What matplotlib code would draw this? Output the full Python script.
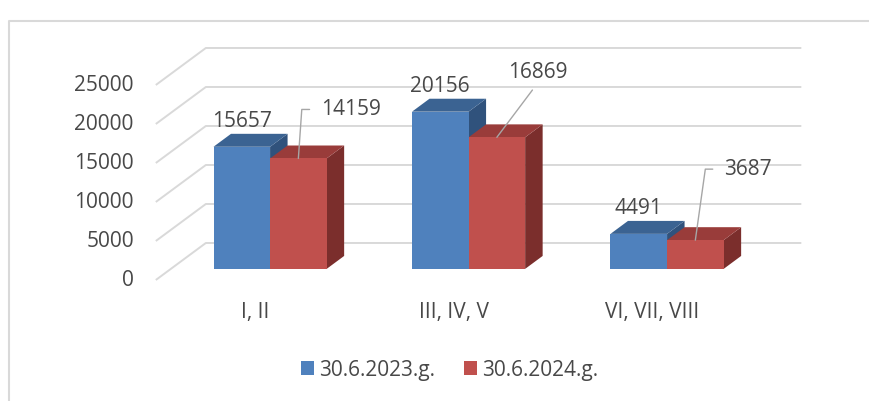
import matplotlib.pyplot as plt
from matplotlib.patches import Polygon, Patch
from matplotlib.lines import Line2D

categories = ["I, II", "III, IV, V", "VI, VII, VIII"]
series_names = ["30.6.2023.g.", "30.6.2024.g."]
values_2023 = [15657, 20156, 4491]
values_2024 = [14159, 16869, 3687]
y_ticks = [0, 5000, 10000, 15000, 20000, 25000]

plt.rcParams['font.family'] = ['Open Sans', 'DejaVu Sans']
text_c = "#484848"
grid_c = "#D9D9D9"
# front, top, side shades for each series
shades = [("#4F81BD", "#3B6392", "#30527C"),
          ("#C0504D", "#993C3A", "#7B2E2C")]

fig = plt.figure(figsize=(8.7, 4.01), dpi=100)
ax = fig.add_axes([0, 0, 1, 1])
ax.set_axis_off()
ax.set_xlim(-1.285, 3.098)
ax.set_ylim(-15513, 35897)

# oblique "3d" view: full depth shifts by DX (x units) and DY (value units)
DX, DY = 0.252, 4744
T0, T1 = 0.3, 0.65  # depth range of the bars
W = 0.285  # bar width


def proj(x, t, v):
    return x + t * DX, v + t * DY


# walls
for v in y_ticks:
    x0, y0 = proj(-0.5, 0, v)
    x1, y1 = proj(-0.5, 1, v)
    x2, y2 = proj(2.5, 1, v)
    ax.plot([x0, x1, x2], [y0, y1, y2], color=grid_c, lw=1.4, zorder=1,
            solid_capstyle='butt')
    ax.annotate(f"{v}", (x0, y0), xytext=(-22, -1), textcoords='offset pixels',
                ha='right', va='center', fontsize=15, color=text_c)

for i, cat in enumerate(categories):
    ax.annotate(cat, proj(i, 0, 0), xytext=(0, -33),
                textcoords='offset pixels', ha='center', va='center',
                fontsize=15, color=text_c)

# bars
tops = []
for s, vals in enumerate([values_2023, values_2024]):
    front, top, side = shades[s]
    xs = [i + (s - 0.5) * W for i in range(len(vals))]
    ax.bar([x + T0 * DX for x in xs], vals, width=W, bottom=T0 * DY,
           color=front, zorder=3 + s * 3)
    for x, h in zip(xs, vals):
        xl, xr = x - W / 2, x + W / 2
        top_pts = [proj(xl, T0, h), proj(xr, T0, h), proj(xr, T1, h),
                   proj(xl, T1, h)]
        side_pts = [proj(xr, T0, 0), proj(xr, T1, 0), proj(xr, T1, h),
                    proj(xr, T0, h)]
        ax.add_patch(Polygon(side_pts, closed=True, fc=side, ec='none',
                             zorder=1.5 + s * 3))
        ax.add_patch(Polygon(top_pts, closed=True, fc=top, ec='none',
                             zorder=2 + s * 3))
        tops.append(proj(x, T0, h))

# value labels
lead_c = "#A6A6A6"
for k in range(3):
    ax.annotate(str(values_2023[k]), tops[k], xytext=(0, 25),
                textcoords='offset pixels', ha='center', va='center',
                fontsize=15, color=text_c, zorder=10)

ax.annotate(str(values_2024[0]), tops[3], xytext=(23, 49),
            textcoords='offset pixels', ha='left', va='center', fontsize=15,
            color=text_c, zorder=10,
            arrowprops=dict(arrowstyle='-', color=lead_c, lw=1,
                            connectionstyle='angle,angleA=0,angleB=86,rad=0',
                            relpos=(0, 0.5), shrinkA=6.5, shrinkB=0))
ax.annotate(str(values_2024[1]), tops[4], xytext=(41, 65),
            textcoords='offset pixels', ha='center', va='center', fontsize=15,
            color=text_c, zorder=10,
            arrowprops=dict(arrowstyle='-', color=lead_c, lw=1,
                            relpos=(0.5, 0), shrinkA=4, shrinkB=0))
ax.annotate(str(values_2024[2]), tops[5], xytext=(28.5, 71),
            textcoords='offset pixels', ha='left', va='center', fontsize=15,
            color=text_c, zorder=10,
            arrowprops=dict(arrowstyle='-', color=lead_c, lw=1,
                            connectionstyle='angle,angleA=0,angleB=82,rad=0',
                            relpos=(0, 0.5), shrinkA=6, shrinkB=0))

handles = [Patch(fc=shades[0][0]), Patch(fc=shades[1][0])]
fig.legend(handles, series_names, loc='center', bbox_to_anchor=(0.517, 0.077),
           ncol=2, frameon=False, fontsize=15, handlelength=0.6,
           handleheight=0.65, handletextpad=0.25, columnspacing=1.4,
           labelcolor=text_c)

# chart frame
fig.add_artist(Line2D([9 / 870, 9 / 870, 1], [0, 1 - 20.5 / 401, 1 - 20.5 / 401],
                      transform=fig.transFigure, color=grid_c, lw=1.5))

fig.savefig("out.png", dpi=100)
